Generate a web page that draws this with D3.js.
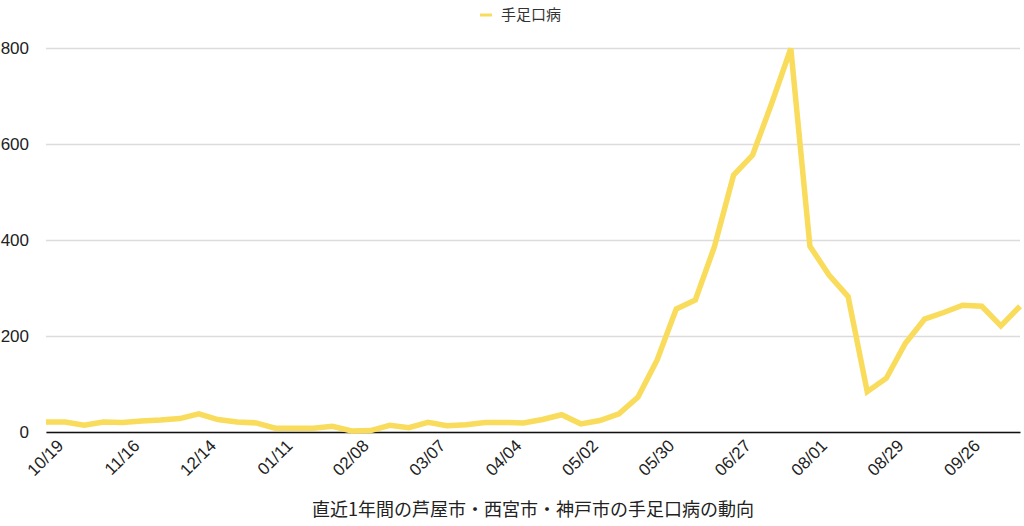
<!DOCTYPE html>
<html>
<head>
<meta charset="utf-8">
<script src="https://cdn.jsdelivr.net/npm/d3@7"></script>
<style>
  body { margin: 0; background: #fff; }
  svg { display: block; font-family: "Noto Sans CJK JP", "Noto Sans", sans-serif; }
</style>
</head>
<body>
<div id="wrapper"></div>
<script>
// weekly labels (one week missing between 07/18 and 08/01 in the source)
const weeks = [
  "10/19", "10/26", "11/02", "11/09", "11/16", "11/23", "11/30", "12/07",
  "12/14", "12/21", "12/28", "01/04", "01/11", "01/18", "01/25", "02/01",
  "02/08", "02/15", "02/22", "02/29", "03/07", "03/14", "03/21", "03/28",
  "04/04", "04/11", "04/18", "04/25", "05/02", "05/09", "05/16", "05/23",
  "05/30", "06/06", "06/13", "06/20", "06/27", "07/04", "07/11", "07/18",
  "08/01", "08/08", "08/15", "08/22", "08/29", "09/05", "09/12", "09/19",
  "09/26", "10/03", "10/10", "10/17"
]
const cases = [
  21, 21, 14, 21, 20, 23, 25, 28, 38, 26, 21, 19, 8, 8, 8, 12,
  2, 3, 14, 9, 20, 13, 15, 20, 20, 19, 26, 36, 17, 24, 38, 73,
  150, 256, 275, 386, 535, 577, 685, 799, 387, 327, 282, 84, 112, 185,
  235, 249, 264, 262, 221, 262
]
const yTicks = [0, 200, 400, 600, 800]
const seriesName = "手足口病"
const chartTitle = "直近1年間の芦屋市・西宮市・神戸市の手足口病の動向"
const lineColor = "#f9dc5c"

const dimensions = {
  width: 1024,
  height: 526,
  margins: { top: 48, right: 4, bottom: 94, left: 46 },
}
dimensions.boundedWidth = dimensions.width - dimensions.margins.left - dimensions.margins.right
dimensions.boundedHeight = dimensions.height - dimensions.margins.top - dimensions.margins.bottom

const wrapper = d3.select("#wrapper")
  .append("svg")
  .attr("width", dimensions.width)
  .attr("height", dimensions.height)

const bounds = wrapper.append("g")
  .attr("transform", `translate(${dimensions.margins.left},${dimensions.margins.top})`)

// scales
const xScale = d3.scalePoint()
  .domain(weeks)
  .range([0, dimensions.boundedWidth])

const yScale = d3.scaleLinear()
  .domain([0, 800])
  .range([dimensions.boundedHeight, 0])

// gridlines + y labels
const yAxis = bounds.append("g")
  .call(d3.axisLeft(yScale)
    .tickValues(yTicks)
    .tickSize(-dimensions.boundedWidth)
    .tickPadding(17)
    .tickFormat(d3.format("d")))
yAxis.select(".domain").remove()
yAxis.selectAll(".tick line")
  .attr("stroke", "#dcdcdc")
  .attr("stroke-width", 1.5)
yAxis.selectAll(".tick text")
  .attr("fill", "#222")
  .style("font-size", "17px")
  .style("font-family", "'Liberation Sans', sans-serif")

// x axis
const xAxis = bounds.append("g")
  .attr("transform", `translate(0,${dimensions.boundedHeight})`)
  .call(d3.axisBottom(xScale)
    .tickValues(weeks.filter((d, i) => i % 4 === 0))
    .tickSize(0)
    .tickSizeOuter(0))
xAxis.select(".domain")
  .attr("stroke", "#111")
  .attr("stroke-width", 1.5)
xAxis.selectAll(".tick text")
  .attr("fill", "#222")
  .style("font-size", "17px")
  .style("font-family", "'Liberation Sans', sans-serif")
  .attr("text-anchor", "end")
  .attr("dominant-baseline", "central")
  .attr("dy", null)
  .attr("y", 0)
  .attr("transform", "translate(14,11) rotate(-45)")

// line
const line = d3.line()
  .x((d, i) => xScale(weeks[i]))
  .y(d => yScale(d))

bounds.append("path")
  .datum(cases)
  .attr("fill", "none")
  .attr("stroke", lineColor)
  .attr("stroke-width", 5.5)
  .attr("stroke-linejoin", "miter")
  .attr("d", line)

// legend
const legend = wrapper.append("g").attr("transform", "translate(480,15)")
legend.append("line")
  .attr("x1", 0).attr("x2", 12)
  .attr("stroke", lineColor)
  .attr("stroke-width", 3)
legend.append("text")
  .attr("x", 21)
  .attr("dy", "0.35em")
  .attr("fill", "#333")
  .style("font-size", "15px")
  .text(seriesName)

// bottom caption
wrapper.append("text")
  .attr("x", dimensions.margins.left + dimensions.boundedWidth / 2)
  .attr("y", 516)
  .attr("text-anchor", "middle")
  .attr("fill", "#222")
  .style("font-size", "18px")
  .text(chartTitle)
</script>
</body>
</html>
